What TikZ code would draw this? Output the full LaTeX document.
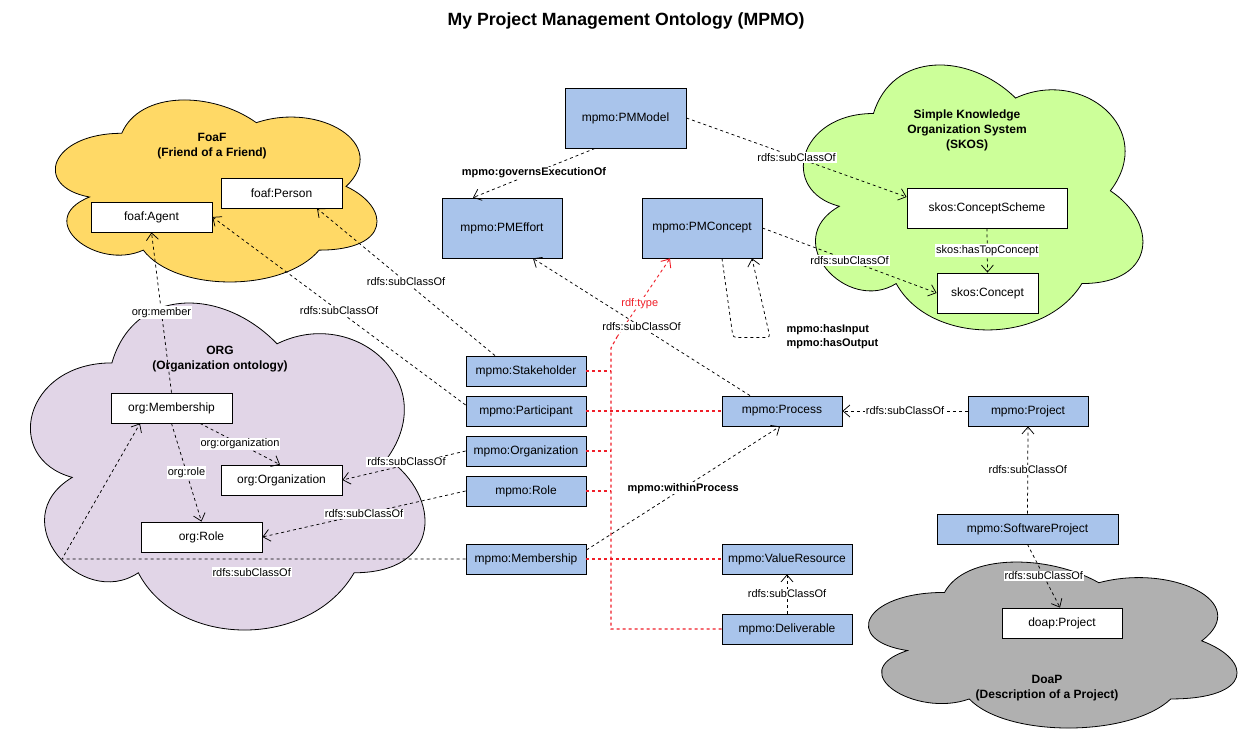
\documentclass[tikz,border=0pt]{standalone}
\usepackage{fontspec}
\setmainfont{Liberation Sans}
\usetikzlibrary{arrows.meta}
\definecolor{mpblue}{HTML}{A9C4EB}
\definecolor{foafyellow}{HTML}{FFD966}
\definecolor{orgpurple}{HTML}{E1D5E7}
\definecolor{skosgreen}{HTML}{CCFF99}
\definecolor{doapgrey}{HTML}{B0B0B0}
\definecolor{typered}{HTML}{F01E28}
\newcommand\drawcloud[5]{%
  \begin{scope}[shift={(#2,#3)}, xscale=#4, yscale=#5]
    \draw[fill=#1, line width=0.8pt] (0.25,0.25) .. controls (0.05,0.25) and (0,0.5) .. (0.16,0.55)
      .. controls (0,0.66) and (0.18,0.9) .. (0.31,0.8)
      .. controls (0.4,1) and (0.7,1) .. (0.8,0.8)
      .. controls (1,0.8) and (1,0.6) .. (0.875,0.5)
      .. controls (1,0.3) and (0.8,0.1) .. (0.625,0.2)
      .. controls (0.5,0.05) and (0.3,0.05) .. (0.25,0.25) -- cycle;
  \end{scope}}
\tikzset{
  box/.style={draw=black, line width=0.8pt, minimum height=30pt, inner sep=2pt, font=\fontsize{12}{14}\selectfont},
  mp/.style={box, fill=mpblue},
  ext/.style={box, fill=white},
  rel/.style={draw=black, line width=0.75pt, dash pattern=on 3pt off 3pt, -{Straight Barb[length=7pt,width=12pt]}},
  typeline/.style={draw=typered, line width=1.1pt, dash pattern=on 3pt off 3pt},
  lbl/.style={fill=white, inner sep=1pt, font=\fontsize{11}{13}\selectfont, text=black},
  blbl/.style={lbl, font=\fontsize{11}{13}\selectfont\bfseries},
  ctitle/.style={align=center, font=\fontsize{12}{15}\selectfont\bfseries}
}
\begin{document}
\begin{tikzpicture}[x=1pt, y=-1pt]
\useasboundingbox[fill=white] (0,0) rectangle (1253,743);
% clouds
\drawcloud{foafyellow}{32.0}{80.2}{359}{212.4}
\drawcloud{orgpurple}{1.8}{267.5}{440.4}{381.6}
\drawcloud{skosgreen}{778.7}{36.2}{379}{309.2}
\drawcloud{doapgrey}{841.7}{544}{411.4}{193.7}
% titles
\node[font=\fontsize{17.7}{20}\selectfont\bfseries] (title) at (626,21) {My Project Management Ontology (MPMO)};
\node[ctitle] (foaftitle) at (212,146.5) {FoaF\\(Friend of a Friend)};
\node[ctitle] (orgtitle) at (220,359.5) {ORG\\(Organization ontology)};
\node[ctitle] (skostitle) at (967,130) {Simple Knowledge\\Organization System\\(SKOS)};
\node[ctitle] (doaptitle) at (1047,688.5) {DoaP\\(Description of a Project)};
% nodes
\node[mp, minimum width=121pt, minimum height=60pt] (pmmodel) at (625.5,118) {mpmo:PMModel};
\node[mp, minimum width=120pt, minimum height=60pt] (pmeffort) at (502,228) {mpmo:PMEffort};
\node[mp, minimum width=120pt, minimum height=60pt] (pmconcept) at (702,228) {mpmo:PMConcept};
\node[ext, minimum width=160pt, minimum height=40pt] (scheme) at (987,208) {skos:ConceptScheme};
\node[ext, minimum width=101pt, minimum height=40pt] (skosconcept) at (987.5,293) {skos:Concept};
\node[ext, minimum width=121pt] (person) at (281.5,193) {foaf:Person};
\node[ext, minimum width=121pt] (agent) at (151.5,217) {foaf:Agent};
\node[ext, minimum width=121pt] (orgmem) at (171.5,408) {org:Membership};
\node[ext, minimum width=121pt] (orgorg) at (281.5,480) {org:Organization};
\node[ext, minimum width=121pt] (orgrole) at (201.5,537) {org:Role};
\node[mp, minimum width=120pt] (stake) at (526,371) {mpmo:Stakeholder};
\node[mp, minimum width=120pt] (partic) at (526,411) {mpmo:Participant};
\node[mp, minimum width=120pt] (mporg) at (526,451) {mpmo:Organization};
\node[mp, minimum width=120pt] (mprole) at (526,491) {mpmo:Role};
\node[mp, minimum width=120pt] (mpmem) at (526,559) {mpmo:Membership};
\node[mp, minimum width=120pt] (process) at (782,411) {mpmo:Process};
\node[mp, minimum width=130pt] (valres) at (787,559) {mpmo:ValueResource};
\node[mp, minimum width=130pt] (deliv) at (787,629) {mpmo:Deliverable};
\node[mp, minimum width=120pt] (project) at (1028,411) {mpmo:Project};
\node[mp, minimum width=181pt] (swproj) at (1027.5,529) {mpmo:SoftwareProject};
\node[ext, minimum width=120pt] (doapproj) at (1062,623) {doap:Project};
% red rdf:type lines
\coordinate (trunktop) at (611,348);
\coordinate (trunkbend) at (617,337);
\draw[typeline] (stake.east) -- (stake.east -| trunktop);
\draw[typeline] (partic.east) -- (process.west);
\draw[typeline] (mporg.east) -- (mporg.east -| trunktop);
\draw[typeline] (mprole.east) -- (mprole.east -| trunktop);
\draw[typeline] (mpmem.east) -- (valres.west);
\draw[typeline] (deliv.west) -- (deliv.west -| trunktop) -- (trunktop) -- (trunkbend);
\draw[typeline, line width=0.9pt, -{Straight Barb[length=7pt,width=12pt]}] (trunkbend) -- node[lbl, text=typered, pos=0.43]{rdf:type} ([xshift=-32pt]pmconcept.south);
% black relations
\draw[rel] ([xshift=-30.5pt]pmmodel.south) -- node[blbl]{mpmo:governsExecutionOf} ([xshift=-29pt]pmeffort.north);
\draw[rel] (pmmodel.east) -- node[lbl]{rdfs:subClassOf} ([yshift=11pt]scheme.west);
\draw[rel] (pmconcept.east) -- node[lbl]{rdfs:subClassOf} (skosconcept.west);
\draw[rel] (scheme.south) -- node[lbl]{skos:hasTopConcept} (skosconcept.north);
\draw[rel, rounded corners=3pt] ([xshift=20pt]pmconcept.south) -- ++(11,79) -- ++(37,0) -- ([xshift=50pt]pmconcept.south);
\node[anchor=west, align=left, font=\fontsize{11}{14}\selectfont\bfseries] (iolabel) at (783,337) {mpmo:hasInput\\mpmo:hasOutput};
\draw[rel] ([xshift=-31pt]stake.north) -- node[lbl]{rdfs:subClassOf} ([xshift=35.5pt]person.south);
\draw[rel] ([yshift=6pt]partic.west) -- node[lbl]{rdfs:subClassOf} (agent.east);
\draw[rel] (mporg.west) -- node[lbl, pos=0.48, yshift=3pt]{rdfs:subClassOf} (orgorg.east);
\draw[rel] (mprole.west) -- node[lbl]{rdfs:subClassOf} (orgrole.east);
\coordinate (memcorner) at (62,559);
\draw[rel] (mpmem.west) -- node[lbl, below=8pt, pos=0.53]{rdfs:subClassOf} (memcorner) -- ([xshift=-31.5pt]orgmem.south);
\draw[rel] ([xshift=28.5pt]orgmem.south) -- node[lbl]{org:organization} ([xshift=-1.5pt]orgorg.north);
\draw[rel] (orgmem.south) -- node[lbl]{org:role} (orgrole.north);
\draw[rel] (orgmem.north) -- node[lbl]{org:member} (agent.south);
\draw[rel] ([xshift=-32pt]process.north) -- node[lbl]{rdfs:subClassOf} ([xshift=31pt]pmeffort.south);
\draw[rel] (project.west) -- node[lbl]{rdfs:subClassOf} (process.east);
\draw[rel] (swproj.north) -- node[lbl]{rdfs:subClassOf} (project.south);
\draw[rel] (swproj.south) -- node[lbl]{rdfs:subClassOf} ([xshift=-2pt]doapproj.north);
\draw[rel] ([yshift=9pt]mpmem.east) -- node[blbl]{mpmo:withinProcess} ([xshift=-2pt]process.south);
\draw[rel] (deliv.north) -- node[lbl]{rdfs:subClassOf} (valres.south);
\end{tikzpicture}
\end{document}
